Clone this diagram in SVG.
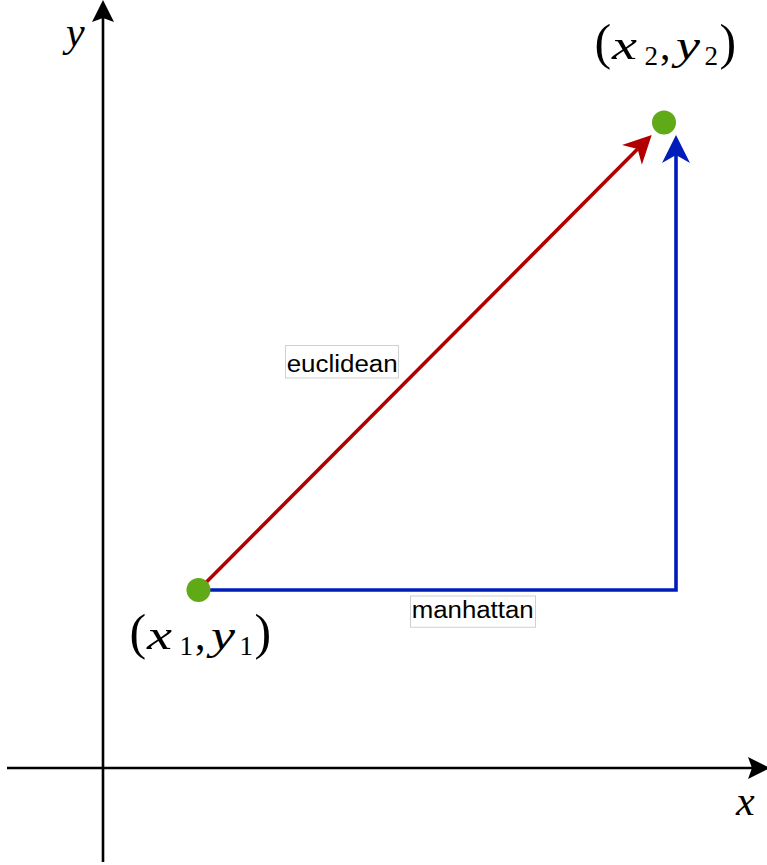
<svg xmlns="http://www.w3.org/2000/svg" width="767" height="865" viewBox="0 0 767 865">
  <style>
    .axis { stroke: #000; stroke-width: 2.6; fill: none; }
    .red { stroke: #B20000; stroke-width: 3.6; fill: none; }
    .blue { stroke: #001DBC; stroke-width: 3.6; fill: none; stroke-linejoin: miter; }
    .dot { fill: #60A917; }
    .box { fill: #fff; stroke: #d0d0d0; stroke-width: 1; }
    .lbl { font-family: "Liberation Sans", Arial, sans-serif; font-size: 23px; fill: #000; }
    .math { font-family: "Liberation Serif", "Times New Roman", serif; fill: #000; }
    .it { font-style: italic; font-size: 42px; }
    .par { font-style: normal; font-size: 50px; }
    .sub { font-style: normal; font-size: 27px; }
    .cm { font-style: normal; font-size: 42px; }
  </style>
  <defs>
    <marker id="axArrow" viewBox="-6 -12 26 24" markerWidth="26" markerHeight="24" refX="0" refY="0" orient="auto" markerUnits="userSpaceOnUse">
      <path d="M18,0 L-4,-11 L0,0 L-4,11 Z" fill="#000"/>
    </marker>
    <marker id="redArrow" viewBox="-10 -15 32 30" markerWidth="32" markerHeight="30" refX="0" refY="0" orient="auto" markerUnits="userSpaceOnUse">
      <path d="M20,0 L-8,-14 L0,0 L-8,14 Z" fill="#B20000"/>
    </marker>
    <marker id="blueArrow" viewBox="-10 -15 32 30" markerWidth="32" markerHeight="30" refX="0" refY="0" orient="auto" markerUnits="userSpaceOnUse">
      <path d="M20,0 L-8,-14 L0,0 L-8,14 Z" fill="#001DBC"/>
    </marker>
  </defs>

  <g id="connectors">
    <line id="y-axis" class="axis" x1="103" y1="862" x2="103" y2="18" marker-end="url(#axArrow)"/>
    <line id="x-axis" class="axis" x1="7" y1="768" x2="752" y2="768" marker-end="url(#axArrow)"/>
    <line id="euclidean" class="red" x1="198.5" y1="590" x2="637.6" y2="149.1" marker-end="url(#redArrow)"/>
    <path id="manhattan" class="blue" d="M198.5,590 H676 V155" marker-end="url(#blueArrow)"/>
  </g>

  <g id="point1">
    <circle class="dot" cx="198.5" cy="590" r="12"/>
    <text class="math" y="649"><tspan class="par" x="129.5">(</tspan><tspan class="it" x="147" textLength="25" lengthAdjust="spacingAndGlyphs">x</tspan><tspan class="sub" x="179.5" y="655">1</tspan><tspan class="cm" x="195" y="649">,</tspan><tspan class="it" x="211" textLength="24" lengthAdjust="spacingAndGlyphs">y</tspan><tspan class="sub" x="239.5" y="655">1</tspan><tspan class="par" x="254.5" y="649">)</tspan></text>
  </g>

  <g id="point2">
    <circle class="dot" cx="664" cy="122.5" r="12"/>
    <text class="math" y="59"><tspan class="par" x="594.5">(</tspan><tspan class="it" x="612" textLength="25" lengthAdjust="spacingAndGlyphs">x</tspan><tspan class="sub" x="644.5" y="65">2</tspan><tspan class="cm" x="660" y="59">,</tspan><tspan class="it" x="676" textLength="24" lengthAdjust="spacingAndGlyphs">y</tspan><tspan class="sub" x="704.5" y="65">2</tspan><tspan class="par" x="719.5" y="59">)</tspan></text>
  </g>

  <g id="label-euclidean">
    <rect class="box" x="285.5" y="345.5" width="113" height="32.5"/>
    <text class="lbl" x="286.7" y="371.5" textLength="111" lengthAdjust="spacingAndGlyphs">euclidean</text>
  </g>

  <g id="label-manhattan">
    <rect class="box" x="410.5" y="596" width="125" height="31.3"/>
    <text class="lbl" x="411.7" y="618" textLength="122" lengthAdjust="spacingAndGlyphs">manhattan</text>
  </g>

  <g id="axis-labels">
    <text class="math it" x="66" y="46">y</text>
    <text class="math it" x="736" y="815">x</text>
  </g>
</svg>
